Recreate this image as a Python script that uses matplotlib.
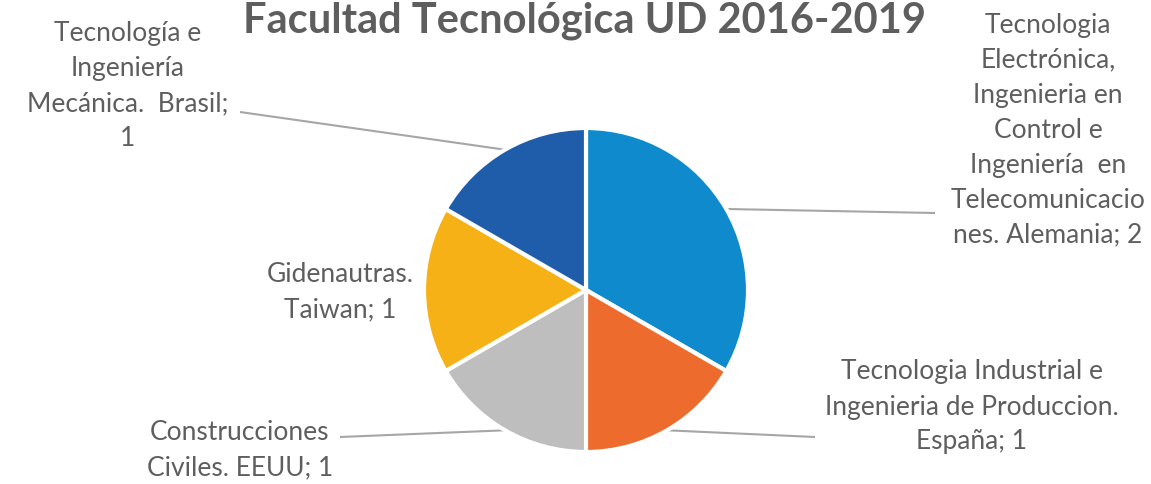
import numpy as np
import matplotlib.pyplot as plt

# Data
labels = [
    "Tecnologia\nElectrónica,\nIngenieria en\nControl e\nIngeniería  en\nTelecomunicacio\nnes. Alemania; 2",
    "Tecnologia Industrial e\nIngenieria de Produccion.\nEspaña; 1",
    "Construcciones\nCiviles. EEUU; 1",
    "Gidenautras.\nTaiwan; 1",
    "Tecnología e\nIngeniería\nMecánica.  Brasil;\n1",
]
values = [2, 1, 1, 1, 1]
colors = ["#0F8BCD", "#EC6B2D", "#BEBEBE", "#F6B116", "#1F5DAA"]
title = "Facultad Tecnológica UD 2016-2019"

W, H = 1151, 484
TEXT_COLOR = "#5E5E5E"
LINE_COLOR = "#A6A6A6"

# layout in pixel space (y measured from top, converted below)
CENTER = (586, 290)
RADIUS = 162
label_pos = [(1048, 130), (972, 407), (240, 450), (340, 292), (128, 86)]
line_end = [(935, 213), (815, 437), (340, 437), None, (240, 112)]


def py(y):
    return H - y


fig = plt.figure(figsize=(W / 100, H / 100), dpi=100)
ax = fig.add_axes([0, 0, 1, 1])

wedges, _ = ax.pie(values, colors=colors, startangle=90, counterclock=False,
                   center=(CENTER[0], py(CENTER[1])), radius=RADIUS,
                   wedgeprops=dict(edgecolor="white", linewidth=3))
ax.set_xlim(0, W)
ax.set_ylim(0, H)
ax.set_aspect("equal")
ax.axis("off")

for w, lab, pos, end in zip(wedges, labels, label_pos, line_end):
    mid = np.deg2rad((w.theta1 + w.theta2) / 2)
    if end is not None:
        sx = CENTER[0] + RADIUS * np.cos(mid)
        sy = py(CENTER[1]) + RADIUS * np.sin(mid)
        ax.plot([sx, end[0]], [sy, py(end[1])], color=LINE_COLOR, lw=1.5,
                solid_capstyle="butt", zorder=0)
    ax.text(pos[0], py(pos[1]), lab, ha="center", va="center", multialignment="center",
            fontsize=19, family="Lato", color=TEXT_COLOR, linespacing=1.5)

ax.text(585, py(33), title, ha="center", va="baseline", fontsize=30,
        family="Lato", fontweight="bold", color=TEXT_COLOR)

fig.savefig("out.png", dpi=100)
